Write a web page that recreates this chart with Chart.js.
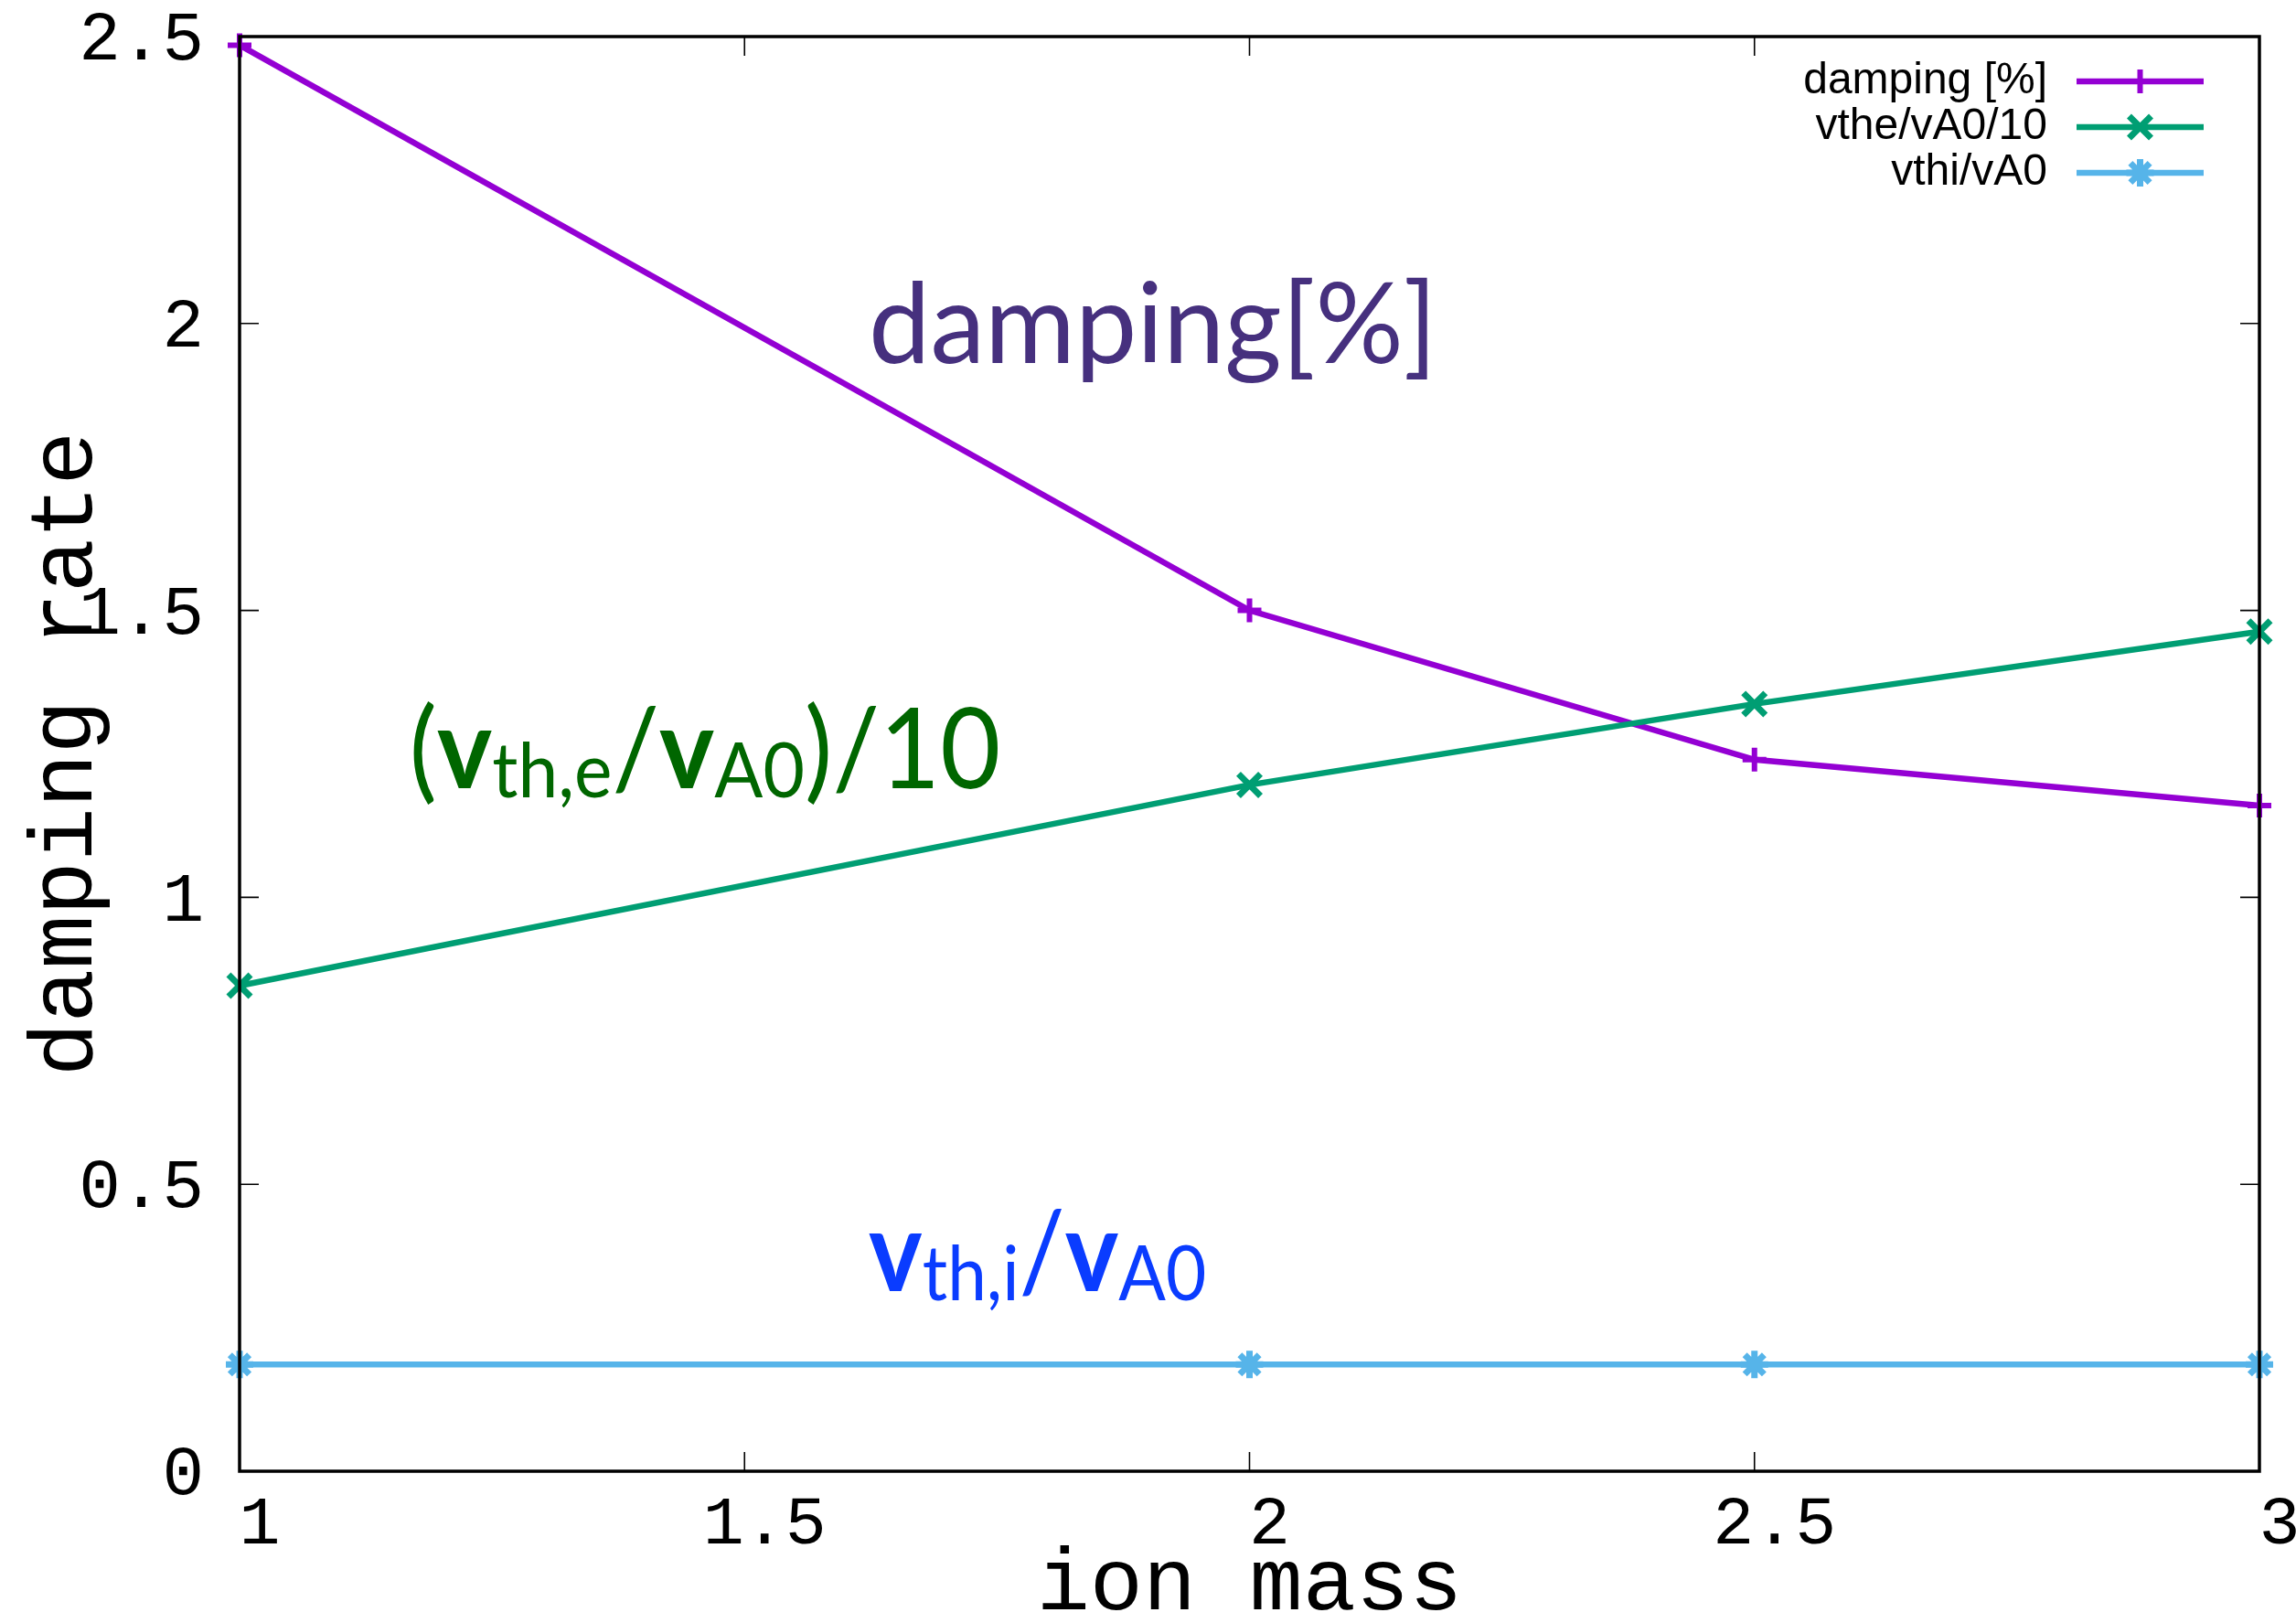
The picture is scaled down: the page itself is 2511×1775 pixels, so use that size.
<!DOCTYPE html>
<html>
<head>
<meta charset="utf-8">
<title>damping rate vs ion mass</title>
<script src="https://cdn.jsdelivr.net/npm/chart.js@4.4.1/dist/chart.umd.min.js"></script>
<style>
  html, body { margin: 0; padding: 0; background: #ffffff; }
  canvas { display: block; }
</style>
</head>
<body>
<canvas id="chart" width="2511" height="1775"></canvas>
<script>
// ---- data ----
const ionMass          = [1, 2, 2.5, 3];
const dampingPct       = [2.485, 1.50, 1.24, 1.16];
const vtheOverVA0Div10 = [0.846, 1.196, 1.337, 1.463];
const vthiOverVA0      = [0.186, 0.186, 0.186, 0.186];
const seriesLabels     = ['damping [%]', 'vthe/vA0/10', 'vthi/vA0'];
const xTickValues      = [1, 1.5, 2, 2.5, 3];
const yTickValues      = [0, 0.5, 1, 1.5, 2, 2.5];

const toPoints = ys => ionMass.map((x, i) => ({ x, y: ys[i] }));

const MONO = "'Liberation Mono', 'DejaVu Sans Mono', monospace";
const SANS = "'Liberation Sans', Arial, sans-serif";
const HUMANIST = "Lato, 'Open Sans', sans-serif";

// Large coloured labels inside the plot (data coordinates of the left baseline point)
const noteLabels = [
  { x: 1.623, y: 1.931, color: '#46307e', squeeze: 0.985,
    parts: [{ t: 'damping[%]' }] },
  { x: 1.168, y: 1.190, color: '#006600', squeeze: 0.935,
    parts: [{ t: '(' }, { t: 'v', bold: true }, { t: 'th,e', sub: true }, { t: '/' },
            { t: 'v', bold: true }, { t: 'A0', sub: true }, { t: ')/10' }] },
  { x: 1.623, y: 0.314, color: '#0a3cff', squeeze: 0.91,
    parts: [{ t: 'v', bold: true }, { t: 'th,i', sub: true }, { t: '/' },
            { t: 'v', bold: true }, { t: 'A0', sub: true }] }
];

// Border box with inward tick marks on all four sides
const framePlugin = {
  id: 'frame',
  afterDatasetsDraw(chart) {
    const { ctx, chartArea: a, scales } = chart;
    const L = 21;
    ctx.save();
    ctx.strokeStyle = '#000';
    ctx.lineWidth = 1.6;
    ctx.beginPath();
    scales.x.ticks.forEach(t => {
      const px = scales.x.getPixelForValue(t.value);
      ctx.moveTo(px, a.bottom); ctx.lineTo(px, a.bottom - L);
      ctx.moveTo(px, a.top);    ctx.lineTo(px, a.top + L);
    });
    scales.y.ticks.forEach(t => {
      const py = scales.y.getPixelForValue(t.value);
      ctx.moveTo(a.left, py);  ctx.lineTo(a.left + L, py);
      ctx.moveTo(a.right, py); ctx.lineTo(a.right - L, py);
    });
    ctx.stroke();
    ctx.lineWidth = 3.5;
    ctx.strokeRect(a.left, a.top, a.right - a.left, a.bottom - a.top);
    ctx.restore();
  }
};

// Key in the upper right: right-aligned text, then a line sample with its marker
const keyPlugin = {
  id: 'keyBox',
  afterDraw(chart, args, o) {
    const { ctx } = chart;
    ctx.save();
    chart.data.datasets.forEach((ds, i) => {
      const y = o.top + i * o.rowGap;
      ctx.font = o.font;
      ctx.fillStyle = '#000';
      ctx.textAlign = 'right';
      ctx.textBaseline = 'middle';
      ctx.fillText(ds.label, o.textRight, y);
      ctx.strokeStyle = ds.borderColor;
      ctx.lineWidth = ds.borderWidth;
      ctx.beginPath();
      ctx.moveTo(o.lineStart, y);
      ctx.lineTo(o.lineEnd, y);
      ctx.stroke();
      ctx.lineWidth = ds.pointBorderWidth;
      ctx.fillStyle = ds.borderColor;
      Chart.helpers.drawPoint(ctx, {
        pointStyle: ds.pointStyle, radius: ds.pointRadius,
        borderWidth: ds.pointBorderWidth, rotation: 0
      }, (o.lineStart + o.lineEnd) / 2, y);
    });
    ctx.restore();
  }
};

// In-plot annotation text with subscripts
const notesPlugin = {
  id: 'notes',
  afterDraw(chart, args, o) {
    const { ctx, scales } = chart;
    ctx.save();
    ctx.textAlign = 'left';
    ctx.textBaseline = 'alphabetic';
    noteLabels.forEach(n => {
      ctx.save();
      ctx.translate(scales.x.getPixelForValue(n.x), scales.y.getPixelForValue(n.y));
      ctx.scale(n.squeeze, 1);
      let x = 0;
      ctx.fillStyle = n.color;
      n.parts.forEach(p => {
        const size = p.sub ? o.subSize : o.mainSize;
        ctx.font = (p.bold ? '700 ' : '400 ') + size + 'px ' + HUMANIST;
        ctx.fillText(p.t, x, p.sub ? o.subShift : 0);
        x += ctx.measureText(p.t).width;
      });
      ctx.restore();
    });
    ctx.restore();
  }
};

new Chart(document.getElementById('chart'), {
  type: 'line',
  data: {
    datasets: [
      { label: seriesLabels[0], data: toPoints(dampingPct), order: 2,
        borderColor: '#9400d3', backgroundColor: '#9400d3', borderWidth: 6.5,
        pointStyle: 'cross', pointRadius: 13, pointBorderWidth: 6, clip: false },
      { label: seriesLabels[1], data: toPoints(vtheOverVA0Div10), order: 1,
        borderColor: '#009e73', backgroundColor: '#009e73', borderWidth: 6.5,
        pointStyle: 'crossRot', pointRadius: 17, pointBorderWidth: 7, clip: false },
      { label: seriesLabels[2], data: toPoints(vthiOverVA0), order: 0,
        borderColor: '#56b4e9', backgroundColor: '#56b4e9', borderWidth: 6.5,
        pointStyle: 'star', pointRadius: 15, pointBorderWidth: 7, clip: false }
    ]
  },
  options: {
    responsive: false,
    animation: false,
    devicePixelRatio: 1,
    layout: { padding: { top: 40, right: 40, left: 0, bottom: 0 } },
    elements: { line: { tension: 0 } },
    plugins: {
      legend: { display: false },
      tooltip: { enabled: false },
      keyBox: { top: 89, rowGap: 50, textRight: 2239, lineStart: 2271, lineEnd: 2410,
                font: '48px ' + SANS },
      notes: { mainSize: 122, subSize: 84, subShift: 10 }
    },
    scales: {
      x: {
        type: 'linear', min: 1, max: 3,
        afterBuildTicks: s => { s.ticks = xTickValues.map(v => ({ value: v })); },
        afterFit: s => { s.height = 166; s.paddingLeft = 0; s.paddingRight = 0; },
        grid: { display: false, drawTicks: false },
        border: { display: false },
        ticks: { font: { family: MONO, size: 75 }, color: '#000', padding: 14,
                 labelOffset: 22, maxRotation: 0, autoSkip: false,
                 callback: v => String(v) },
        title: { display: true, text: 'ion mass', color: '#000',
                 font: { family: MONO, size: 97, lineHeight: 0.8 },
                 padding: { top: 0, bottom: 2 } }
      },
      y: {
        type: 'linear', min: 0, max: 2.5,
        afterBuildTicks: s => { s.ticks = yTickValues.map(v => ({ value: v })); },
        afterFit: s => { s.width = 262; s.paddingTop = 0; s.paddingBottom = 0; },
        grid: { display: false, drawTicks: false },
        border: { display: false },
        ticks: { font: { family: MONO, size: 76 }, color: '#000', padding: 39,
                 labelOffset: 5, autoSkip: false, callback: v => String(v) },
        title: { display: true, text: 'damping rate', color: '#000',
                 font: { family: MONO, size: 98, lineHeight: 0.8 },
                 padding: { top: 35, bottom: 0 } }
      }
    }
  },
  plugins: [framePlugin, keyPlugin, notesPlugin]
});
</script>
</body>
</html>
